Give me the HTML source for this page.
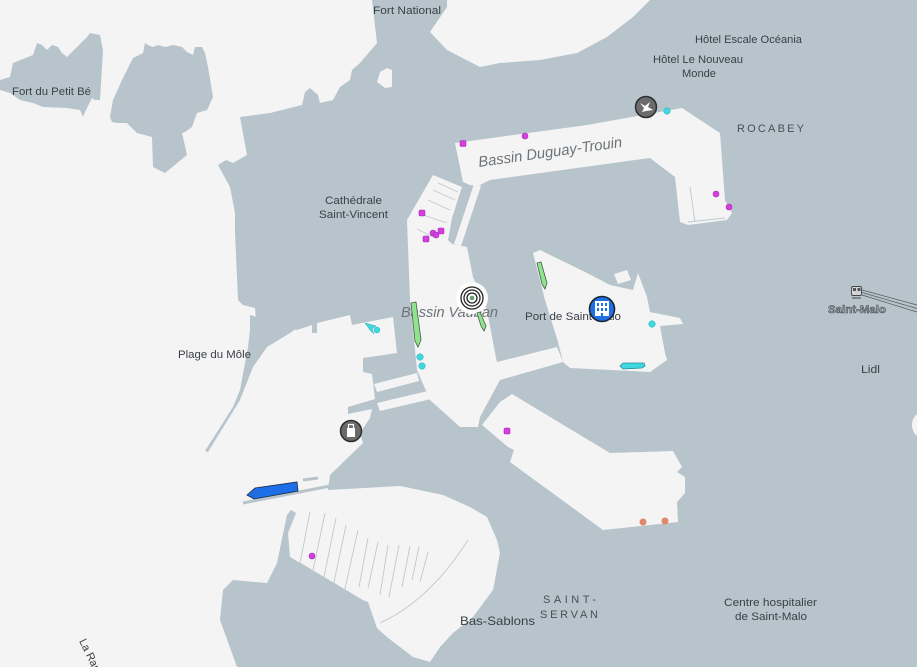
<!DOCTYPE html>
<html><head><meta charset="utf-8">
<style>
html,body{margin:0;padding:0;background:#b7c4cb;}
svg{display:block;}
text{font-family:"Liberation Sans",sans-serif;}
</style></head>
<body>
<svg width="917" height="667" viewBox="0 0 917 667" xmlns="http://www.w3.org/2000/svg">
<rect x="0" y="0" width="917" height="667" fill="#b7c4cb"/>
<g fill="#f4f4f4">
<!-- left sea + inner harbour + marina -->
<path d="M0,0 L372,0 L377,43 L360,63 L352,70 L350,80 L340,87 L333,100 L320,103 L318,95 L310,88 L305,92 L302,105 L270,113 L240,117 L247,155 L233,163 L226,160 L218,165 L230,187 L235,213 L235,233 L238,300 L243,305 L255,308 L256,320 L297,330 L312,325 L312,333 L317,333 L317,323 L350,315 L352,325 L393,317 L397,353 L363,358 L363,372 L372,374 L375,399 L348,407 L348,414 L372,409 L370,418 L360,433 L363,443 L330,475 L328,490 L400,486 L410,488 L443,495 L470,507 L487,517 L497,540 L500,553 L493,590 L473,617 L453,633 L440,647 L430,662 L413,657 L387,637 L377,628 L368,602 L363,600 L290,557 L288,533 L296,513 L291,510 L287,515 L277,563 L267,583 L233,580 L223,590 L220,620 L237,667 L0,667 Z"/>
<!-- top channel -->
<path d="M447,0 L447,7 L430,32 L447,50 L480,67 L500,63 L540,60 L577,53 L607,37 L633,17 L650,0 Z"/>
<path d="M377,82 L380,72 L387,68 L392,70 L392,87 L385,88 Z"/>
<!-- Duguay-Trouin band -->
<path d="M455,143 L587,125 L643,115 L682,108 L720,133 L725,200 L732,213 L727,220 L688,225 L680,222 L675,177 L650,158 L577,168 L490,180 L478,186 L470,185 L463,182 Z"/>
<path d="M474,184 L481,186 L461,246 L454,244 Z"/>
<!-- Bassin Vauban -->
<path d="M433,175 L462,187 L452,218 L448,240 L452,244 L467,247 L473,277 L487,310 L497,363 L500,380 L480,417 L478,427 L460,427 L430,400 L417,370 L410,300 L407,220 Z"/>
<path d="M493,363 L557,347 L563,362 L500,380 Z"/>
<!-- Port de Saint-Malo -->
<path d="M533,253 L540,250 L587,273 L610,285 L633,290 L638,273 L647,297 L650,312 L680,318 L683,324 L660,326 L665,353 L667,360 L650,372 L570,368 L563,362 L558,342 L545,300 Z"/>
<path d="M614,274 L627,270 L631,280 L618,284 Z"/>
<!-- bottom right quay -->
<path d="M512,394 L610,453 L673,451 L682,467 L677,472 L685,477 L685,493 L677,502 L678,522 L603,530 L510,462 L514,450 L508,447 L482,425 L500,402 Z"/>
<!-- quay strips -->
<path d="M374,384 L417,373 L419,381 L377,392 Z"/>
<path d="M377,403 L428,391 L431,399 L380,411 Z"/>
<ellipse cx="921" cy="425" rx="9" ry="12"/>
</g>
<!-- islands -->
<g fill="#b7c4cb">
<path d="M0,80 L10,77 L13,63 L33,55 L37,43 L42,45 L47,50 L52,45 L58,47 L62,53 L67,57 L87,37 L90,33 L100,35 L103,50 L102,67 L100,100 L95,100 L92,98 L85,112 L83,117 L80,110 L67,108 L43,107 L33,103 L20,100 L10,93 L0,90 Z"/>
<path d="M110,117 L113,100 L122,80 L133,58 L143,53 L145,43 L148,45 L153,47 L158,45 L165,47 L173,45 L182,47 L187,52 L193,55 L195,47 L202,47 L205,53 L208,67 L213,97 L207,110 L197,113 L192,127 L185,132 L182,133 L187,155 L165,173 L153,167 L152,137 L137,133 L127,123 L117,123 L112,122 Z"/>
<path d="M250,315 L297,328 L290,333 L267,347 L253,367 L240,400 L208,452 L205,451 L233,407 L240,390 L248,347 L250,330 Z"/>
</g>
<!-- piers / lines -->
<g stroke="#b7c4cb" fill="none">
<line x1="243" y1="503" x2="330" y2="486" stroke-width="3"/>
<line x1="303" y1="480" x2="318" y2="478" stroke-width="3"/>
<g stroke-width="0.9" stroke="#bfc9cf">
<line x1="438" y1="183" x2="458" y2="192"/><line x1="433" y1="190" x2="455" y2="200"/>
<line x1="428" y1="200" x2="450" y2="210"/><line x1="423" y1="215" x2="447" y2="223"/>
<line x1="417" y1="229" x2="433" y2="237"/>
<line x1="690" y1="187" x2="695" y2="222"/><line x1="688" y1="222" x2="725" y2="218"/>
<line x1="310" y1="512" x2="300" y2="563"/><line x1="325" y1="513" x2="312" y2="575"/>
<line x1="336" y1="518" x2="323" y2="582"/><line x1="346" y1="525" x2="333" y2="587"/>
<line x1="358" y1="530" x2="344" y2="593"/><line x1="368" y1="538" x2="359" y2="587"/>
<line x1="378" y1="542" x2="368" y2="588"/><line x1="388" y1="545" x2="380" y2="595"/>
<line x1="399" y1="545" x2="389" y2="597"/><line x1="410" y1="546" x2="402" y2="587"/>
<line x1="419" y1="547" x2="412" y2="580"/><line x1="428" y1="552" x2="420" y2="582"/>
<line x1="300" y1="563" x2="367" y2="603"/>
<path d="M380,623 Q430,600 468,540"/>
</g>
</g>
<!-- railway -->
<g stroke="#55595e" stroke-width="0.7">
<line x1="862" y1="290" x2="917" y2="305"/><line x1="862" y1="292.5" x2="917" y2="308.5"/><line x1="862" y1="295" x2="917" y2="312"/>
</g>
<rect x="851.5" y="286.5" width="10" height="9" rx="1.5" fill="#d0d4d7" stroke="#444" stroke-width="0.9"/>
<rect x="853" y="288" width="3" height="3" fill="#555"/><rect x="857.5" y="288" width="3" height="3" fill="#555"/>
<line x1="852" y1="298" x2="861" y2="298" stroke="#444" stroke-width="1"/>

<!-- labels -->
<g fill="#3b4046" font-size="11">
<text x="373" y="14" textLength="68" lengthAdjust="spacingAndGlyphs">Fort National</text>
<text x="12" y="95" textLength="79" lengthAdjust="spacingAndGlyphs">Fort du Petit Bé</text>
<text x="325" y="204" textLength="57" lengthAdjust="spacingAndGlyphs">Cathédrale</text>
<text x="319" y="218" textLength="69" lengthAdjust="spacingAndGlyphs">Saint-Vincent</text>
<text x="695" y="43" textLength="107" lengthAdjust="spacingAndGlyphs">Hôtel Escale Océania</text>
<text x="653" y="63" textLength="90" lengthAdjust="spacingAndGlyphs">Hôtel Le Nouveau</text>
<text x="682" y="77" textLength="34" lengthAdjust="spacingAndGlyphs">Monde</text>
<text x="525" y="320" textLength="96" lengthAdjust="spacingAndGlyphs">Port de Saint-Malo</text>
<text x="178" y="358" textLength="73" lengthAdjust="spacingAndGlyphs">Plage du Môle</text>
<text x="861" y="373" textLength="19" lengthAdjust="spacingAndGlyphs">Lidl</text>
<text x="724" y="606" textLength="93" lengthAdjust="spacingAndGlyphs">Centre hospitalier</text>
<text x="735" y="620" textLength="72" lengthAdjust="spacingAndGlyphs">de Saint-Malo</text>
<text x="460" y="625" font-size="12" textLength="75" lengthAdjust="spacingAndGlyphs">Bas-Sablons</text>
<text transform="translate(79,641) rotate(64)" font-size="11">La Rance</text>
</g>
<g fill="#4a4f55" font-size="11">
<text x="737" y="132" textLength="69" lengthAdjust="spacing" letter-spacing="2">ROCABEY</text>
<text x="543" y="603" textLength="55" lengthAdjust="spacing" letter-spacing="2">SAINT-</text>
<text x="540" y="618" textLength="60" lengthAdjust="spacing" letter-spacing="2">SERVAN</text>
</g>
<g fill="#6d7378" font-size="15" font-style="italic">
<text transform="translate(479,167) rotate(-8)" textLength="145" lengthAdjust="spacingAndGlyphs">Bassin Duguay-Trouin</text>
<text x="401" y="317" textLength="97" lengthAdjust="spacingAndGlyphs">Bassin Vauban</text>
</g>
<text x="828" y="313" font-size="11" font-weight="bold" fill="#9aa3a9" stroke="#3f4449" stroke-width="0.5" textLength="58" lengthAdjust="spacingAndGlyphs">Saint-Malo</text>

<!-- boats -->
<path d="M411,303 L416,302 L421,340 L418,347 L415,341 Z" fill="#8fe48d" stroke="#4b5a4b" stroke-width="0.8"/>
<path d="M537,263 L541,262 L547,283 L545,289 L542,284 Z" fill="#8fe48d" stroke="#4b5a4b" stroke-width="0.8"/>
<path d="M620,366 L623,363 L644,363 L645,366 L642,368 L623,369 Z" fill="#3fd7e0" stroke="#2a8f98" stroke-width="0.8"/>
<path d="M247,495 L255,488 L297,482 L298,491 L254,499 Z" fill="#1c6fe8" stroke="#1f2a3a" stroke-width="0.8"/>
<circle cx="256" cy="493" r="1" fill="#666"/>
<path d="M365,323 L376,326 L372,329 L374,334 L370,330 Z" fill="#3fd7e0" stroke="#2aa" stroke-width="0.5"/>

<!-- target -->
<circle cx="472" cy="298" r="16" fill="#ffffff" opacity="0.92"/>
<circle cx="472" cy="298" r="11" fill="none" stroke="#222" stroke-width="1.3"/>
<circle cx="472" cy="298" r="8" fill="none" stroke="#222" stroke-width="1.3"/>
<circle cx="472" cy="298" r="5" fill="none" stroke="#222" stroke-width="1.3"/>
<circle cx="472" cy="298" r="2.3" fill="#6a9f68"/>
<path d="M477,313 L480,312 L486,326 L484,331 L481,326 Z" fill="#8fe48d" stroke="#4b5a4b" stroke-width="0.8"/>

<!-- building icon -->
<circle cx="602" cy="309" r="12.5" fill="#1f6fe5" stroke="#1b2533" stroke-width="1.6"/>
<rect x="595" y="301" width="14" height="15" fill="#fff"/>
<g fill="#1f6fe5">
<rect x="597" y="303" width="2" height="3"/><rect x="601" y="303" width="2" height="3"/><rect x="605" y="303" width="2" height="3"/>
<rect x="597" y="308" width="2" height="3"/><rect x="601" y="308" width="2" height="3"/><rect x="605" y="308" width="2" height="3"/>
<rect x="601" y="313" width="2" height="3"/>
</g>

<!-- bird icon -->
<circle cx="646" cy="107" r="10.5" fill="#6c6c6c" stroke="#2e2e2e" stroke-width="1.5"/>
<path d="M640,103 L645,106 L650,102 L648,107 L653,110 L646,111 L642,112 L644,108 Z" fill="#fff"/>

<!-- lock icon -->
<circle cx="351" cy="431" r="10.5" fill="#6a6a6a" stroke="#2e2e2e" stroke-width="1.5"/>
<rect x="347" y="428" width="8" height="9" fill="#fff"/>
<path d="M348.5,428 L348.5,424.5 L353.5,424.5 L353.5,428" fill="none" stroke="#fff" stroke-width="1.2"/>

<!-- dots -->
<g fill="#d53fe0" stroke="#a22ab2" stroke-width="0.6">
<rect x="460" y="140.5" width="6" height="6" rx="1.5"/>
<circle cx="525" cy="136" r="3"/>
<circle cx="716" cy="194" r="3"/>
<circle cx="729" cy="207" r="3"/>
<rect x="419" y="210" width="6" height="6" rx="1.5"/>
<circle cx="433" cy="233" r="3"/>
<circle cx="436" cy="235" r="3"/>
<rect x="438" y="228" width="6" height="6" rx="1.5"/>
<rect x="423" y="236" width="6" height="6" rx="1.5"/>
<rect x="504" y="428" width="6" height="6" rx="1.5"/>
<circle cx="312" cy="556" r="3"/>
</g>
<g fill="#3fd7e0" stroke="#2ab0b8" stroke-width="0.5">
<circle cx="667" cy="111" r="3.3"/>
<circle cx="652" cy="324" r="3.3"/>
<circle cx="420" cy="357" r="3.3"/>
<circle cx="422" cy="366" r="3.3"/>
<circle cx="377" cy="330" r="3"/>
</g>
<g fill="#e0876b">
<circle cx="643" cy="522" r="3.5"/>
<circle cx="665" cy="521" r="3.5"/>
</g>
</svg>
</body></html>
